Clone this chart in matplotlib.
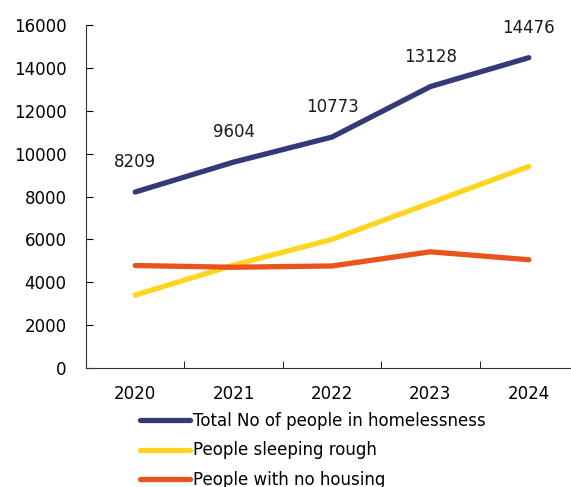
import matplotlib
matplotlib.use('Agg')
import matplotlib.pyplot as plt
import numpy as np

# data
years = ['2020', '2021', '2022', '2023', '2024']
total_homeless = [8209, 9604, 10773, 13128, 14476]
sleeping_rough = [3400, 4800, 6000, 7700, 9400]
no_housing = [4780, 4700, 4760, 5420, 5050]

plt.rcParams['font.family'] = ['DejaVu Sans']

fig = plt.figure(figsize=(5.71, 4.87), dpi=100)
ax = fig.add_axes([86 / 571, 1 - 368 / 487, (578 - 86) / 571, (368 - 25) / 487])

x = np.arange(len(years))
ax.plot(x, total_homeless, color='#323A78', lw=3.8, solid_capstyle='round',
        label='Total No of people in homelessness')
ax.plot(x, sleeping_rough, color='#FFD520', lw=3.8, solid_capstyle='round',
        label='People sleeping rough')
ax.plot(x, no_housing, color='#E8531E', lw=3.8, solid_capstyle='round',
        label='People with no housing')

for xi, v in zip(x, total_homeless):
    ax.annotate(str(v), (xi, v), xytext=(0, 15), textcoords='offset points',
                ha='center', va='bottom', fontsize=12, color='#1a1a1a')

ax.set_xlim(-0.5, 4.5)
ax.set_ylim(0, 16000)
ax.set_yticks(range(0, 16001, 2000))
ax.set_xticks(x)
ax.set_xticklabels(years)
ax.set_xticks(x[:-1] + 0.5, minor=True)
ax.tick_params(axis='x', which='major', length=0, pad=12, labelsize=12)
ax.tick_params(axis='x', which='minor', direction='in', length=5)
ax.tick_params(axis='y', direction='in', length=5, pad=14, labelsize=12)

for s in ['top', 'right']:
    ax.spines[s].set_visible(False)
for s in ['left', 'bottom']:
    ax.spines[s].set_color('#333333')

fig.legend(loc='upper left', bbox_to_anchor=(140 / 571, 1 - 412 / 487),
           frameon=False, fontsize=12, handlelength=3.0, handletextpad=0.2,
           labelspacing=0.68, borderaxespad=0, borderpad=0)

fig.savefig('out.png', dpi=100)
